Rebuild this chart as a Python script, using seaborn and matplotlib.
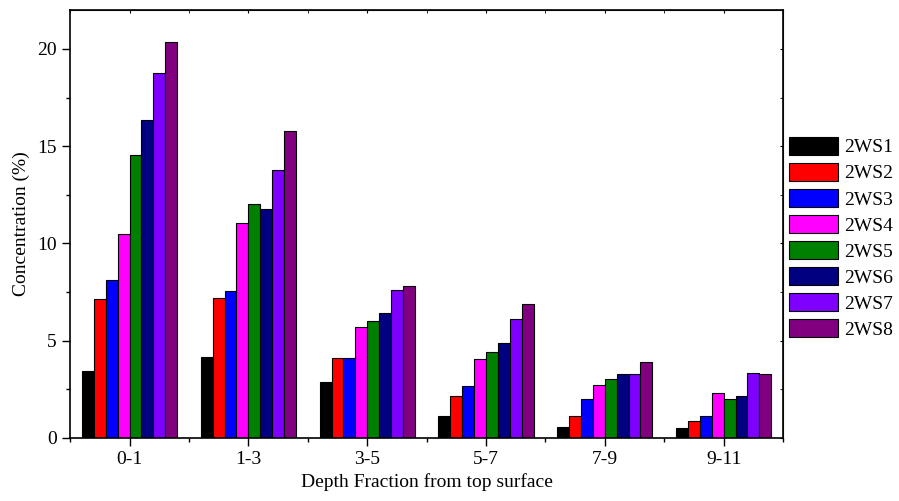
import numpy as np
import pandas as pd
import matplotlib
matplotlib.use("Agg")
import matplotlib.pyplot as plt
import seaborn as sns
from matplotlib.ticker import MultipleLocator

depths = ["0-1", "1-3", "3-5", "5-7", "7-9", "9-11"]
samples = ["2WS1", "2WS2", "2WS3", "2WS4", "2WS5", "2WS6", "2WS7", "2WS8"]

ws1 = [3.46, 4.15, 2.87, 1.13, 0.58, 0.51]
ws2 = [7.16, 7.18, 4.10, 2.14, 1.10, 0.89]
ws3 = [8.14, 7.54, 4.10, 2.66, 2.02, 1.12]
ws4 = [10.50, 11.07, 5.70, 4.07, 2.74, 2.33]
ws5 = [14.55, 12.00, 6.02, 4.43, 3.02, 1.99]
ws6 = [16.37, 11.76, 6.42, 4.87, 3.29, 2.16]
ws7 = [18.75, 13.76, 7.60, 6.09, 3.29, 3.33]
ws8 = [20.38, 15.80, 7.79, 6.88, 3.91, 3.26]

colors = ["#000000", "#FF0000", "#0000FF", "#FF00FF",
          "#008000", "#000080", "#8000FF", "#800080"]

series = [ws1, ws2, ws3, ws4, ws5, ws6, ws7, ws8]
rows = []
for name, vals in zip(samples, series):
    for d, v in zip(depths, vals):
        rows.append({"depth": d, "sample": name, "conc": v})
df = pd.DataFrame(rows)

sns.set_style("ticks")
plt.rcParams["font.family"] = ["Liberation Serif", "DejaVu Serif"]
plt.rcParams["text.color"] = "black"
plt.rcParams["axes.labelcolor"] = "black"
plt.rcParams["xtick.color"] = "black"
plt.rcParams["ytick.color"] = "black"

fig = plt.figure(figsize=(8.99, 5.01), dpi=100)
ax = fig.add_axes([0.078, 0.126, 0.793, 0.854])

sns.barplot(data=df, x="depth", y="conc", hue="sample", order=depths,
            hue_order=samples, palette=colors, width=0.8,
            edgecolor="black", linewidth=0.8, saturation=1, ax=ax)

ax.set_xlim(-0.5, 5.5)
ax.set_ylim(0, 22)
ax.yaxis.set_major_locator(MultipleLocator(5))
ax.yaxis.set_minor_locator(MultipleLocator(2.5))
ax.set_xticks(np.arange(6))
ax.set_xticks(np.arange(-0.5, 6, 1), minor=True)

ax.set_xlabel("Depth Fraction from top surface", fontsize=14, labelpad=4)
ax.set_ylabel("Concentration (%)", fontsize=14, labelpad=5)
ax.tick_params(axis="both", which="major", direction="out", length=6,
               width=1, labelsize=14, colors="black")
ax.tick_params(axis="both", which="minor", direction="out", length=3, width=1)

for s in ax.spines.values():
    s.set_visible(True)
    s.set_linewidth(1.2)
    s.set_color("black")

# mirrored inward ticks on top and right
top = ax.secondary_xaxis("top")
top.set_xticks(np.arange(6))
top.set_xticks(np.arange(-0.5, 6, 1), minor=True)
top.tick_params(which="both", direction="in", length=2, labeltop=False)
right = ax.secondary_yaxis("right")
right.yaxis.set_major_locator(MultipleLocator(5))
right.yaxis.set_minor_locator(MultipleLocator(2.5))
right.tick_params(which="both", direction="in", length=2, labelright=False)

handles, labels = ax.get_legend_handles_labels()
ax.legend(handles, labels, loc="upper left", bbox_to_anchor=(0.878, 0.727),
          bbox_transform=fig.transFigure, frameon=False, fontsize=14,
          handlelength=2.5, handleheight=1.05, handletextpad=0.3,
          labelspacing=0.33, borderaxespad=0, borderpad=0)

fig.savefig("out.png", dpi=100)
